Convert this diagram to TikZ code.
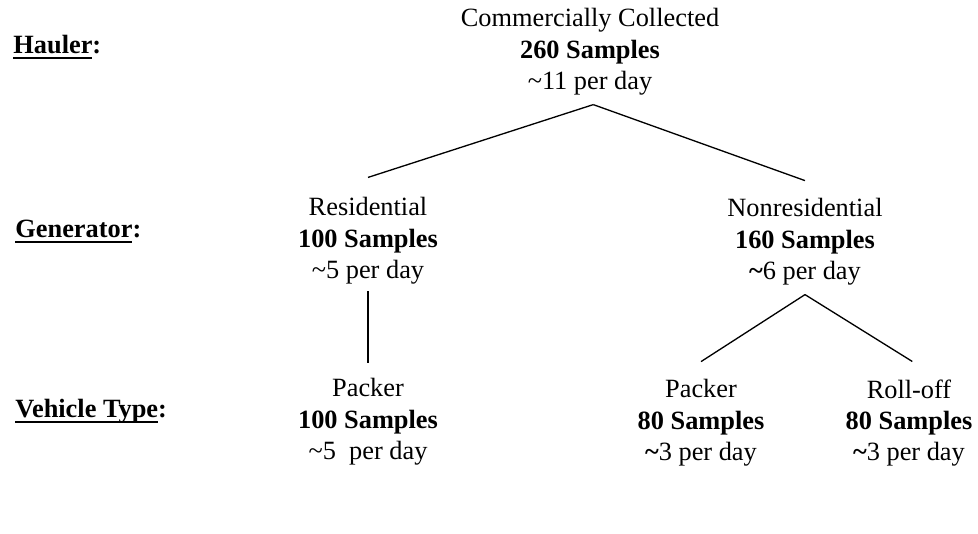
\documentclass[tikz,border=0pt]{standalone}
\usepackage{fontspec}
\setmainfont{Liberation Serif}
\usepackage{tikz}
\usetikzlibrary{positioning}
\newcommand{\wordline}[1]{\setbox0=\hbox{#1}\rlap{\rule[-2.8pt]{\wd0}{1pt}}\box0}
\newcommand{\abt}{\textasciitilde}

\begin{document}
\begin{tikzpicture}[
  x=0.016cm, y=-0.016cm,
  font=\fontsize{12}{14.3}\selectfont,
  cnt/.style={align=center, inner sep=0pt},
  lvl/.style={anchor=base west, inner sep=0pt, font=\fontsize{12}{14.3}\selectfont\bfseries},
  branch/.style={draw, line width=0.6pt}
]
\useasboundingbox (0,0) rectangle (978,533);

% level labels
\node[lvl] (hauler) at (13,53) {\wordline{Hauler}:};
\node[lvl] (gener) at (15,237) {\wordline{Generator}:};
\node[lvl] (vtype) at (15,417) {\wordline{Vehicle Type}:};

% hauler
\node[cnt] (root) at (590,52)
  {Commercially Collected\\ \textbf{260 Samples}\\ \abt11 per day};

% generators
\node[cnt] (res) at (368,241)
  {Residential\\ \textbf{100 Samples}\\ \abt5 per day};
\node[cnt] (nonres) at (805,242)
  {Nonresidential\\ \textbf{160 Samples}\\ \textbf{\abt}6 per day};

% vehicle types
\node[cnt] (packA) at (368,422)
  {Packer\\ \textbf{100 Samples}\\ \abt5 \ per day};
\node[cnt] (packB) at (701,423)
  {Packer\\ \textbf{80 Samples}\\ \textbf{\abt}3 per day};
\node[cnt] (roll) at (909,423)
  {Roll-off\\ \textbf{80 Samples}\\ \textbf{\abt}3 per day};

\draw[branch] ([xshift=1.5pt,yshift=-4pt]root.south) -- ([yshift=9pt]res.north);
\draw[branch] ([xshift=1.5pt,yshift=-4pt]root.south) -- ([yshift=8pt]nonres.north);
\draw[branch] ([yshift=-3pt]res.south) -- ([yshift=7pt]packA.north);
\draw[branch] ([yshift=-4pt]nonres.south) -- ([yshift=8pt]packB.north);
\draw[branch] ([yshift=-4pt]nonres.south) -- ([xshift=1.5pt,yshift=8pt]roll.north);
\end{tikzpicture}
\end{document}
